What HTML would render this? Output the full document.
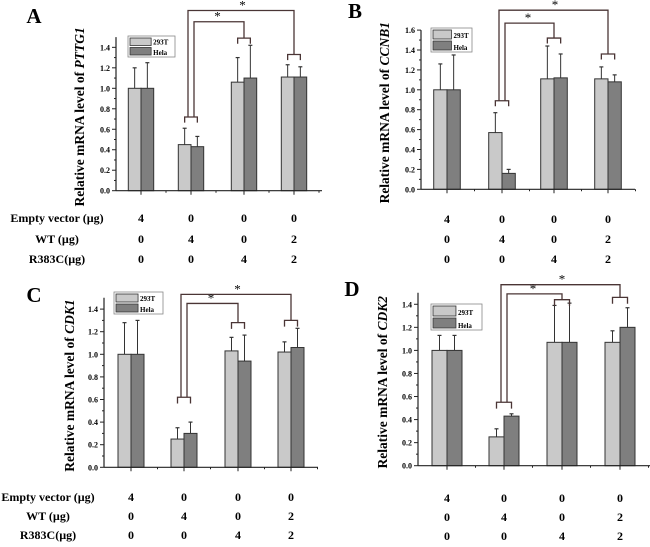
<!DOCTYPE html>
<html><head><meta charset="utf-8">
<style>
body{margin:0;background:#fff;}
svg{display:block;font-family:"Liberation Serif",serif;font-weight:bold;}
</style></head>
<body>
<svg id="fig" width="650" height="547" viewBox="0 0 650 547" xmlns="http://www.w3.org/2000/svg"></svg>
<script>
// ---- data ----
const groups = ["g1","g2","g3","g4"];
const emptyVector = ["4","0","0","0"];
const wtAmount = ["0","4","0","2"];
const r383cAmount = ["0","0","4","2"];
const yTicksA = [0,0.2,0.4,0.6,0.8,1.0,1.2,1.4];
const yTicksB = [0,0.2,0.4,0.6,0.8,1.0,1.2,1.4,1.6];
const a293T = [1.0,0.45,1.06,1.11];
const a293TErr = [0.20,0.16,0.24,0.12];
const aHela = [1.0,0.43,1.10,1.11];
const aHelaErr = [0.25,0.10,0.32,0.10];
const b293T = [1.0,0.57,1.11,1.11];
const b293TErr = [0.26,0.20,0.33,0.12];
const bHela = [1.0,0.16,1.12,1.08];
const bHelaErr = [0.35,0.04,0.24,0.07];
const c293T = [1.0,0.25,1.03,1.02];
const c293TErr = [0.28,0.10,0.12,0.09];
const cHela = [1.0,0.30,0.94,1.06];
const cHelaErr = [0.30,0.10,0.23,0.17];
const d293T = [1.0,0.25,1.07,1.07];
const d293TErr = [0.13,0.07,0.32,0.10];
const dHela = [1.0,0.43,1.07,1.20];
const dHelaErr = [0.13,0.02,0.34,0.17];
// bracket levels (data units): small brackets for g2,g3,g4; inner & outer big bracket
const aBr = [0.72,1.49,1.33,1.65,1.76];
const bBr = [0.89,1.52,1.36,1.67,1.80];
const cBr = [0.62,1.28,1.30,1.45,1.53];
const dBr = [0.55,1.44,1.46,1.49,1.57];

const NS="http://www.w3.org/2000/svg";
const svg=document.getElementById('fig');
function mk(tag,attrs,parent,text){const e=document.createElementNS(NS,tag);for(const k in attrs)e.setAttribute(k,attrs[k]);if(text!==undefined)e.textContent=text;(parent||svg).appendChild(e);return e;}

const panels=[
 {id:"a",letter:"A",lx:34,ly:23,gene:"PTTG1",ax:116,base:190.7,ppu:102.4,right:322,top:1.5,ticks:yTicksA,cx:[141,191,244,294],bw:12.7,
  s1:a293T,e1:a293TErr,s2:aHela,e2:aHelaErr,br:aBr,ylx:84,leg:[128,36,47,21],rows:[218,239,259],rowLabelX:57,showRows:true},
 {id:"b",letter:"B",lx:355,ly:18,gene:"CCNB1",ax:421,base:189.3,ppu:99.5,right:635,top:1.6,ticks:yTicksB,cx:[447,502,554,608],bw:13.3,
  s1:b293T,e1:b293TErr,s2:bHela,e2:bHelaErr,br:bBr,ylx:389,leg:[431,28,41,24],rows:[219,239,259],showRows:false},
 {id:"c",letter:"C",lx:34,ly:302,gene:"CDK1",ax:104,base:467.3,ppu:113,right:318,top:1.5,ticks:yTicksA,cx:[131,184,238,291],bw:13,
  s1:c293T,e1:c293TErr,s2:cHela,e2:cHelaErr,br:cBr,ylx:74,leg:[114,292,49,22],rows:[497,516,535],rowLabelX:48,showRows:true},
 {id:"d",letter:"D",lx:352,ly:296,gene:"CDK2",ax:418,base:465.7,ppu:115.3,right:650,top:1.5,ticks:yTicksA,cx:[447,504,562,620],bw:15,
  s1:d293T,e1:d293TErr,s2:dHela,e2:dHelaErr,br:dBr,ylx:387,leg:[431,304,51,26],rows:[498,517,536],showRows:false}
];

panels.forEach(p=>{
  const g=mk('g',{});
  
  
  const y=v=>p.base-v*p.ppu;
  const L=mk('text',{x:p.lx,y:p.ly,'font-size':21,'text-anchor':'middle'},g,p.letter);
  
  
  // y axis
  const ya=mk('line',{x1:p.ax,y1:y(0),x2:p.ax,y2:y(p.top),stroke:'#222','stroke-width':1.2},g);
  
  
  p.ticks.forEach((t,i)=>{
    mk('line',{x1:p.ax-4,y1:y(t),x2:p.ax,y2:y(t),stroke:'#222','stroke-width':1},g);
    if(i<p.ticks.length-1) mk('line',{x1:p.ax-2,y1:y(t+0.1),x2:p.ax,y2:y(t+0.1),stroke:'#222','stroke-width':1},g);
    const tl=mk('text',{x:p.ax-6,y:y(t)+3,'font-size':8,'text-anchor':'end'},g,t.toFixed(1));
    
    
  });
  // y label
  const yl=mk('text',{x:0,y:0,'font-size':13.5,'text-anchor':'middle',transform:`translate(${p.ylx},${(y(0)+y(p.top))/2+3}) rotate(-90)`},g);
  
  
  mk('tspan',{},yl,'Relative mRNA level of ');
  mk('tspan',{'font-style':'italic'},yl,p.gene);
  // bars
  groups.forEach((gname,i)=>{
    const c=p.cx[i];
    [[p.s1,p.e1,'#c9c9c9',-1],[p.s2,p.e2,'#7f7f7f',0]].forEach(([s,e,col,off],k)=>{
      const x0=c+off*p.bw;
      const r=mk('rect',{x:x0,y:y(s[i]),width:p.bw,height:y(0)-y(s[i]),fill:col,stroke:'#333','stroke-width':1},g);
      
      
      const xm=x0+p.bw/2;
      mk('line',{x1:xm,y1:y(s[i]),x2:xm,y2:y(s[i]+e[i]),stroke:'#333','stroke-width':1},g);
      mk('line',{x1:xm-2,y1:y(s[i]+e[i]),x2:xm+2,y2:y(s[i]+e[i]),stroke:'#333','stroke-width':1.2},g);
    });
  });
  // x axis
  const xa=mk('line',{x1:p.ax,y1:y(0),x2:p.right,y2:y(0),stroke:'#222','stroke-width':1.2},g);
  
  
  const step=p.cx[1]-p.cx[0];
  p.cx.forEach(c=>{
    mk('line',{x1:c,y1:y(0),x2:c,y2:y(0)+4,stroke:'#222'},g);
    mk('line',{x1:c+step/2,y1:y(0),x2:c+step/2,y2:y(0)+2,stroke:'#222'},g);
  });
  // legend
  const [lx,ly,lw,lh]=p.leg;
  const lg=mk('g',{},g);
  
  
  mk('rect',{x:lx,y:ly,width:lw,height:lh,fill:'#fff',stroke:'#888','stroke-width':0.8},lg);
  const sh=lh/2-3;
  mk('rect',{x:lx+2,y:ly+2,width:lw*0.45,height:sh,fill:'#c9c9c9',stroke:'#333','stroke-width':0.8},lg);
  mk('rect',{x:lx+2,y:ly+lh/2+1,width:lw*0.45,height:sh,fill:'#7f7f7f',stroke:'#333','stroke-width':0.8},lg);
  const t1=mk('text',{x:lx+lw*0.45+4,y:ly+lh/2-2,'font-size':7},lg,'293T');
  
  
  const t2=mk('text',{x:lx+lw*0.45+4,y:ly+lh-2,'font-size':7},lg,'Hela');
  
  
  // brackets
  const bc='#4a3535',leg=0.055;
  const smalls=[1,2,3];
  smalls.forEach((gi,k)=>{
    const lev=p.br[k],c=p.cx[gi];
    const xa1=c-p.bw/2,xa2=c+p.bw/2;
    const b=mk('path',{d:`M${xa1},${y(lev-leg)}V${y(lev)}H${xa2}V${y(lev-leg)}`,fill:'none',stroke:bc,'stroke-width':1.3},g);
    
    
  });
  // inner big
  const inner=mk('path',{d:`M${p.cx[1]+3},${y(p.br[0])}V${y(p.br[3])}H${p.cx[2]}V${y(p.br[1])}`,fill:'none',stroke:bc,'stroke-width':1.3},g);
  
  
  const outer=mk('path',{d:`M${p.cx[1]-3},${y(p.br[0])}V${y(p.br[4])}H${p.cx[3]}V${y(p.br[2])}`,fill:'none',stroke:bc,'stroke-width':1.3},g);
  
  
  const s1=mk('text',{x:(p.cx[1]+p.cx[2])/2,y:y(p.br[3])-1,'font-size':13,'text-anchor':'middle','font-weight':'normal'},g,'*');
  
  
  const s2=mk('text',{x:(p.cx[1]+p.cx[3])/2,y:y(p.br[4])-1,'font-size':13,'text-anchor':'middle','font-weight':'normal'},g,'*');
  
  
  // condition rows
  [emptyVector,wtAmount,r383cAmount].forEach((arr,r)=>{
    arr.forEach((v,i)=>{
      const t=mk('text',{x:p.cx[i],y:p.rows[r]+4,'font-size':12,'text-anchor':'middle'},g,v);
      
      
    });
  });
  if(p.showRows){
    ['Empty vector (µg)','WT (µg)','R383C(µg)'].forEach((lab,r)=>{
      const t=mk('text',{x:p.rowLabelX,y:p.rows[r]+4,'font-size':12,'text-anchor':'middle'},g,lab);
      
      
    });
  }
});
</script>
</body></html>
